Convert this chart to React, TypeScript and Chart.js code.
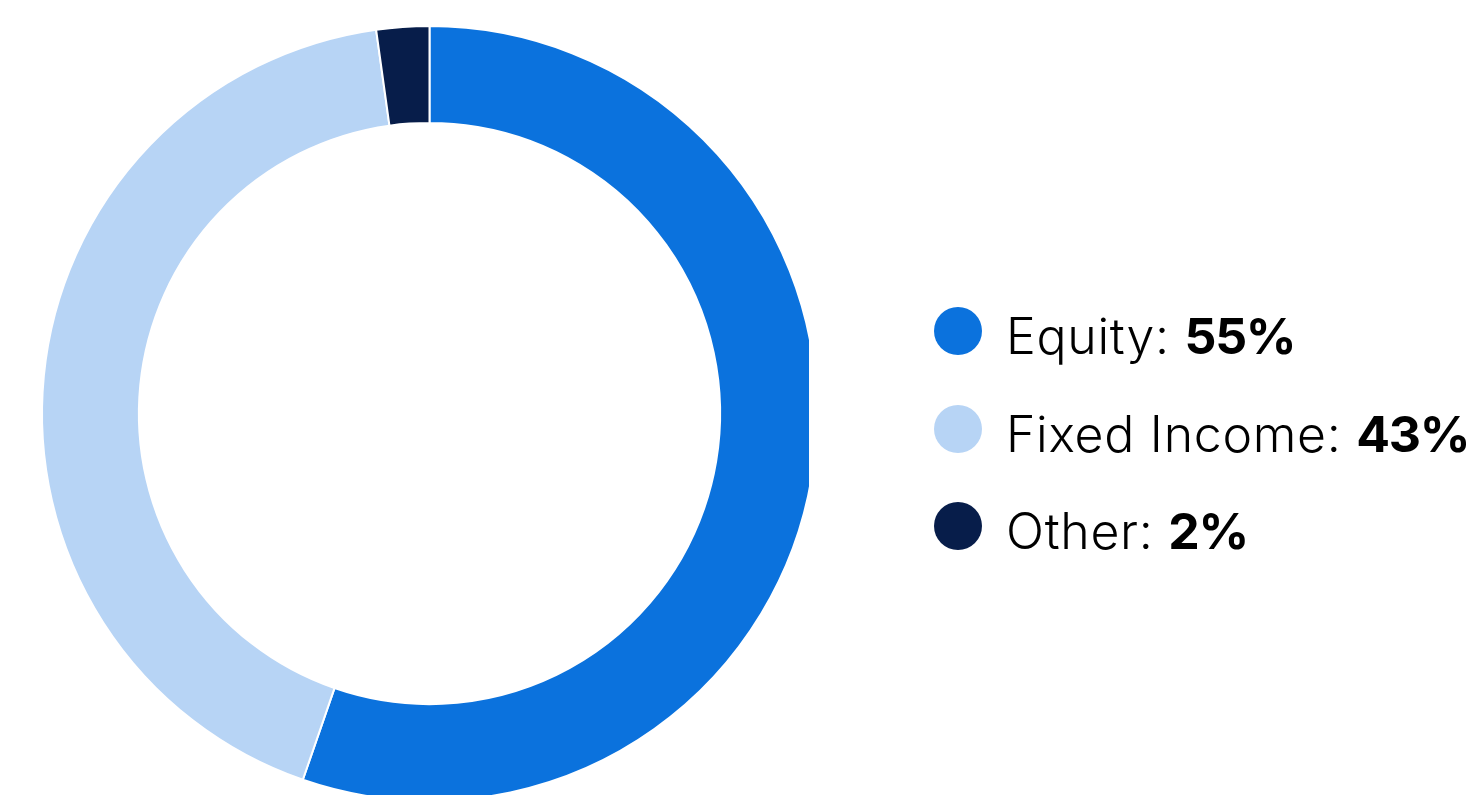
import React, { useEffect, useRef } from "react";
import { Chart, registerables } from "chart.js";

Chart.register(...registerables);

const categories = ["Equity", "Fixed Income", "Other"];
const values = [55.3, 42.5, 2.2];
const displayPercents = ["55%", "43%", "2%"];
const colors = ["#0B72DD", "#B7D4F5", "#071D4A"];

export default function App() {
  const ref = useRef<HTMLCanvasElement | null>(null);

  useEffect(() => {
    if (!ref.current) return;
    const chart = new Chart(ref.current, {
      type: "doughnut",
      data: {
        labels: categories,
        datasets: [
          {
            data: values,
            backgroundColor: colors,
            borderColor: "#ffffff",
            borderWidth: 2,
            hoverOffset: 0,
          },
        ],
      },
      options: {
        animation: false,
        responsive: false,
        maintainAspectRatio: false,
        radius: 387.5,
        cutout: "75%",
        layout: { padding: 0 },
        plugins: {
          legend: { display: false },
          tooltip: { enabled: false },
        },
      },
    });
    return () => chart.destroy();
  }, []);

  const rowTops = [307, 405, 502];

  return (
    <div
      style={{
        position: "fixed",
        left: 0,
        top: 0,
        width: 1477,
        height: 795,
        overflow: "hidden",
        background: "#fff",
        fontFamily: "Inter, sans-serif",
      }}
    >
      <div
        style={{
          position: "absolute",
          left: 8,
          top: 8,
          width: 801,
          height: 787,
          overflow: "hidden",
        }}
      >
        <canvas
          ref={ref}
          width={843}
          height={811}
          style={{ width: 843, height: 811, display: "block" }}
        />
      </div>
      {categories.map((c, i) => (
        <div
          key={c}
          style={{
            position: "absolute",
            left: 934,
            top: rowTops[i],
            height: 48,
            display: "flex",
            alignItems: "center",
            whiteSpace: "nowrap",
          }}
        >
          <span
            style={{
              display: "inline-block",
              width: 48,
              height: 48,
              borderRadius: "50%",
              background: colors[i],
              flex: "0 0 auto",
            }}
          />
          <span
            style={{
              marginLeft: 24,
              fontSize: 50,
              lineHeight: "48px",
              position: "relative",
              top: 5,
              color: "#000",
            }}
          >
            <span style={{ fontWeight: 300, letterSpacing: 0.7 }}>{c}: </span>
            <span style={{ fontWeight: 700, letterSpacing: -1.3 }}>{displayPercents[i]}</span>
          </span>
        </div>
      ))}
    </div>
  );
}
